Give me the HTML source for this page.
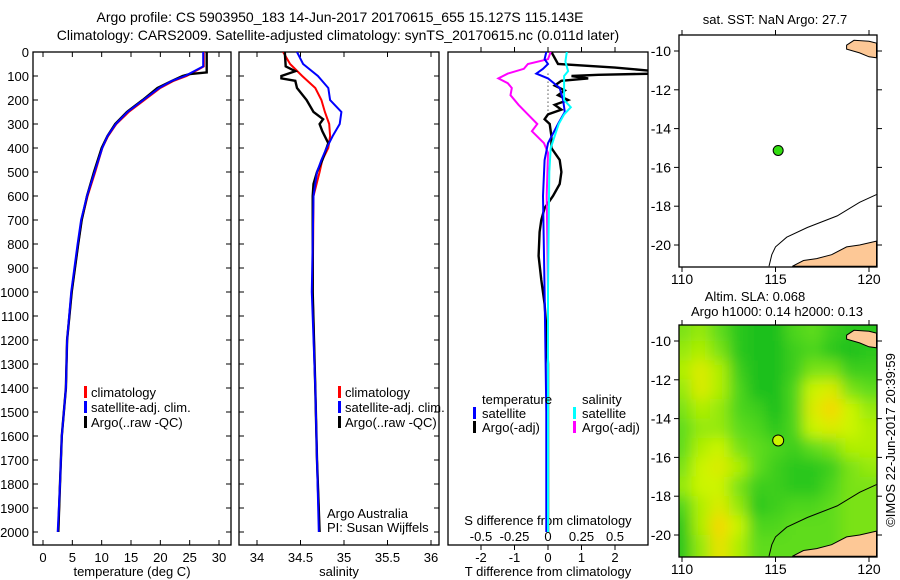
<!DOCTYPE html>
<html><head><meta charset="utf-8"><style>
body{margin:0;background:#fff}
svg{display:block;font-family:"Liberation Sans",sans-serif}
text{font-size:13px;fill:#000}
</style></head><body>
<svg id="c" width="900" height="580" viewBox="0 0 900 580">
<defs>
<clipPath id="cp1"><rect x="33" y="52" width="198" height="493"/></clipPath>
<clipPath id="cp2"><rect x="239" y="52" width="200" height="493"/></clipPath>
<clipPath id="cp3"><rect x="448" y="52" width="200" height="493"/></clipPath>
<clipPath id="cpm1"><rect x="679" y="35" width="198" height="232"/></clipPath>
<clipPath id="cpm2"><rect x="679" y="325" width="198" height="232"/></clipPath>
<filter id="blur" x="-5%" y="-5%" width="110%" height="110%"><feGaussianBlur stdDeviation="7"/></filter>
</defs>
<text x="340" y="22" text-anchor="middle" style="font-size:14px">Argo profile: CS 5903950_183 14-Jun-2017 20170615_655 15.127S 115.143E</text>
<text x="338" y="40" text-anchor="middle" style="font-size:14px">Climatology: CARS2009. Satellite-adjusted climatology: synTS_20170615.nc (0.011d later)</text>
<text transform="translate(895,440) rotate(-90)" text-anchor="middle" style="font-size:13px">©IMOS 22-Jun-2017 20:39:59</text>
</svg>
<script>
// ---------- data ----------
const depthTicks=[0,100,200,300,400,500,600,700,800,900,1000,1100,1200,1300,1400,1500,1600,1700,1800,1900,2000];
const tTicks=[0,5,10,15,20,25,30];
const sTicks=[34,34.5,35,35.5,36];
const dTTicks=[-2,-1,0,1,2];
const dSTicks=[-0.5,-0.25,0,0.25,0.5];
const argoTDepth=[0,85,92,100,120,150,200,250,300,350,400,500,600,700,800,1000,1200,1400,1600,1800,2000];
const argoTemp=[27.9,27.9,25,23.8,22,19.5,17,14.3,12.3,11,10,8.7,7.5,6.6,6.0,4.9,4.1,3.9,3.2,2.9,2.6];
const climTDepth=[0,60,100,120,150,200,250,300,350,400,500,600,700,800,1000,1200,1400,1600,1800,2000];
const climTemp=[27.4,27.4,24.5,22.3,20,17.3,14.6,12.5,11.1,10.1,8.9,7.6,6.6,6.0,4.9,4.1,3.9,3.2,2.9,2.6];
const satTemp=[27.3,27.3,24.2,22.0,19.8,17.1,14.4,12.4,11.0,10.1,8.8,7.5,6.5,5.9,4.8,4.1,3.9,3.2,2.9,2.5];
const argoSDepth=[0,60,80,100,110,120,150,200,250,280,300,330,380,450,500,550,600,1000,1400,1700,2000];
const argoSal=[34.32,34.33,34.44,34.28,34.28,34.44,34.46,34.57,34.65,34.76,34.72,34.75,34.82,34.75,34.69,34.65,34.64,34.64,34.67,34.69,34.72];
const climSDepth=[0,50,100,150,200,250,300,350,400,450,500,600,1000,1400,1700,2000];
const climSal=[34.3,34.38,34.52,34.67,34.74,34.78,34.83,34.84,34.82,34.75,34.72,34.65,34.64,34.67,34.69,34.72];
const satSal=[34.46,34.53,34.7,34.82,34.84,34.97,34.95,34.87,34.8,34.74,34.69,34.65,34.63,34.67,34.69,34.71];
const dArgoTDepth=[0,50,65,80,90,95,100,110,120,140,160,180,200,220,240,260,280,300,350,400,450,500,550,600,650,700,750,850,950,1050,1150,1300,2000];
const dArgoT=[0.1,0.3,2.0,3.2,3.2,1.5,0.7,1.2,0.4,0.2,0.5,0.3,0.6,0.2,0.4,0.0,-0.1,0.05,0.1,0.1,0.35,0.4,0.35,0.15,-0.1,-0.2,-0.25,-0.28,-0.2,-0.1,-0.05,0,0];
const dSatTDepth=[0,30,50,70,90,110,150,200,250,300,340,380,450,600,1000,1500,2000];
const dSatT=[-0.05,-0.1,0.0,-0.15,-0.35,0.0,0.35,0.45,0.5,0.3,0.15,0.0,-0.1,-0.15,-0.1,-0.05,-0.05];
const dSatSDepth=[0,40,80,100,150,200,230,260,300,350,400,500,1000,2000];
const dSatS=[0.14,0.13,0.15,0.12,0.12,0.12,0.17,0.12,0.08,0.05,0.02,0.01,0.0,0.0];
const dArgoSDepth=[0,30,50,70,90,110,130,150,180,220,260,300,330,380,420,600,1000,2000];
const dArgoS=[0.02,0.0,-0.15,-0.18,-0.3,-0.37,-0.3,-0.27,-0.28,-0.22,-0.15,-0.08,-0.12,-0.03,0.0,-0.01,0.0,0.0];
const lonTicks=[110,115,120];
const latTicks=[-10,-12,-14,-16,-18,-20];
const slaLons=[110,111,112,113,114,115,116,117,118,119,120];
const slaLats=[-9.5,-10.5,-11.5,-12.5,-13.5,-14.5,-15.5,-16.5,-17.5,-18.5,-19.5,-20.5];
const slaValues=[
[0.6,0.7,0.5,0.2,0.1,0.1,0.4,0.5,0.3,0.2,0.2],
[0.7,0.8,0.6,0.2,0.1,0.1,0.3,0.4,0.2,0.1,0.2],
[0.8,1.0,0.8,0.3,0.1,0.1,0.3,0.6,0.6,0.3,0.3],
[0.7,1.0,0.8,0.4,0.1,0.1,0.4,0.9,1.0,0.6,0.5],
[0.6,0.8,0.7,0.4,0.3,0.1,0.4,1.0,1.2,0.9,0.7],
[0.5,0.7,0.7,0.5,0.4,0.2,0.4,0.9,1.0,0.9,0.8],
[0.5,0.8,0.9,0.6,0.5,0.4,0.3,0.5,0.6,0.8,0.8],
[0.6,0.9,1.0,0.8,0.5,0.3,0.2,0.2,0.3,0.6,0.7],
[0.7,0.9,0.9,0.6,0.3,0.3,0.2,0.2,0.4,0.6,0.6],
[0.4,0.8,1.0,0.7,0.2,0.3,0.4,0.4,0.5,0.6,0.6],
[0.2,0.8,1.2,0.9,0.4,0.4,0.5,0.5,0.5,0.6,0.6],
[0.2,0.7,1.1,0.8,0.5,0.5,0.5,0.5,0.5,0.6,0.6]];
const floatLon=115.143, floatLat=-15.127;
const islandLon=[118.8,119.2,120,120.4,120.4,120,119.5,118.8];
const islandLat=[-9.7,-9.45,-9.5,-9.6,-10.35,-10.3,-10.1,-9.9];
const ausLon=[115.9,116.5,117.2,118,118.8,119.5,120.4,120.4];
const ausLat=[-21.1,-20.8,-20.7,-20.5,-20.1,-20.0,-19.8,-21.1];
const isoLon=[114.65,114.8,115.0,115.6,116.7,118.3,119.5,120.4];
const isoLat=[-21.1,-20.5,-20.1,-19.6,-19.1,-18.5,-17.8,-17.4];

// ---------- helpers ----------
const svg=document.getElementById('c');
const NS='http://www.w3.org/2000/svg';
function mk(tag,attrs,parent){const e=document.createElementNS(NS,tag);for(const k in attrs)e.setAttribute(k,attrs[k]);(parent||svg).appendChild(e);return e;}
const yD=d=>52+d*0.24;
const xT=t=>43+t*5.867;
const xS=s=>257+(s-34)*87;
const xDT=t=>548+t*33.5;
const xDS=s=>548+s*4*33.5;
const lonX=lon=>682+(lon-110)*18.7;
const latY=(lat,off)=>off+51+(-10-lat)*19.4;

function frame(x,y,w,h,name){
  const r=mk('rect',{x:x,y:y,width:w,height:h,fill:'none',stroke:'#000','stroke-width':1.3});
  
  
}
function line(xs,ys,color,w,clip,name){
  const pts=xs.map((x,i)=>x.toFixed(1)+','+ys[i].toFixed(1)).join(' ');
  const p=mk('polyline',{points:pts,fill:'none',stroke:color,'stroke-width':w,'clip-path':'url(#'+clip+')'});
  
  
}
function txt(x,y,s,anchor,name,size){
  const t=mk('text',{x:x,y:y,'text-anchor':anchor||'start'});
  if(size)t.style.fontSize=size+'px';
  t.textContent=s;
  
  
  return t;
}
function depthAxis(x0,x1,labels){
  depthTicks.forEach(d=>{
    mk('line',{x1:x0,x2:x0+5,y1:yD(d),y2:yD(d),stroke:'#000'});
    mk('line',{x1:x1,x2:x1-5,y1:yD(d),y2:yD(d),stroke:'#000'});
    if(labels){txt(x0-4,yD(d)+5,String(d),'end','depth-tick-label');}
  });
}
function xAxis(vals,fx,fmt,name){
  vals.forEach(v=>{
    const x=fx(v);
    mk('line',{x1:x,x2:x,y1:545,y2:540,stroke:'#000'});
    mk('line',{x1:x,x2:x,y1:52,y2:57,stroke:'#000'});
    txt(x,562,fmt(v),'middle',name);
  });
}
function legendMark(x,y,color,name){
  const r=mk('rect',{x:x,y:y-11,width:3,height:12,fill:color});
  
  
}

// ---------- panel 1: temperature ----------
frame(33,52,198,493,'temperature-panel');
depthAxis(33,231,true);
xAxis(tTicks,xT,v=>String(v),'temperature-tick-label');
txt(132,576,'temperature (deg C)','middle','x-axis-title-temperature');
line(climTemp.map(xT),climTDepth.map(yD),'#f00',2,'cp1','climatology-temp-line');
line(argoTemp.map(xT),argoTDepth.map(yD),'#000',2.4,'cp1','argo-temp-line');
line(satTemp.map(xT),climTDepth.map(yD),'#00f',2,'cp1','satellite-temp-line');
legendMark(84,397,'#f00','legend-climatology-mark');txt(91,397,'climatology','start','legend-climatology');
legendMark(84,412,'#00f','legend-satellite-mark');txt(91,412,'satellite-adj. clim.','start','legend-satellite');
legendMark(84,427,'#000','legend-argo-mark');txt(91,427,'Argo(..raw -QC)','start','legend-argo');

// ---------- panel 2: salinity ----------
frame(239,52,200,493,'salinity-panel');
depthAxis(239,439,false);
xAxis(sTicks,xS,v=>String(v),'salinity-tick-label');
txt(339,576,'salinity','middle','x-axis-title-salinity');
line(climSal.map(xS),climSDepth.map(yD),'#f00',2,'cp2','climatology-sal-line');
line(argoSal.map(xS),argoSDepth.map(yD),'#000',2.4,'cp2','argo-sal-line');
line(satSal.map(xS),climSDepth.map(yD),'#00f',2,'cp2','satellite-sal-line');
legendMark(338,397,'#f00','legend2-climatology-mark');txt(345,397,'climatology','start','legend2-climatology');
legendMark(338,412,'#00f','legend2-satellite-mark');txt(345,412,'satellite-adj. clim.','start','legend2-satellite');
legendMark(338,427,'#000','legend2-argo-mark');txt(345,427,'Argo(..raw -QC)','start','legend2-argo');
txt(327,518,'Argo Australia','start','argo-australia-label');
txt(327,532,'PI: Susan Wijffels','start','pi-label');

// ---------- panel 3: differences ----------
frame(448,52,200,493,'difference-panel');
dTTicks.forEach(v=>{const x=xDT(v);mk('line',{x1:x,x2:x,y1:545,y2:550,stroke:'#000'});txt(x,562,String(v),'middle','t-diff-tick-label');});
dSTicks.forEach(v=>{const x=xDS(v);mk('line',{x1:x,x2:x,y1:52,y2:47,stroke:'#000'});txt(x,541,String(v),'middle','s-diff-tick-label');});
txt(548,525,'S difference from climatology','middle','s-diff-axis-title');
txt(548,576,'T difference from climatology','middle','t-diff-axis-title');
mk('line',{x1:548,x2:548,y1:yD(90),y2:yD(250),stroke:'#000','stroke-dasharray':'1,3'});
line(dArgoT.map(xDT),dArgoTDepth.map(yD),'#000',2.4,'cp3','argo-tdiff-line');
line(dArgoS.map(xDS),dArgoSDepth.map(yD),'#f0f',2,'cp3','argo-sdiff-line');
line(dSatT.map(xDT),dSatTDepth.map(yD),'#00f',2,'cp3','satellite-tdiff-line');
line(dSatS.map(xDS),dSatSDepth.map(yD),'#0ff',2,'cp3','satellite-sdiff-line');
txt(482,404,'temperature','start','legend3-temperature-heading');
legendMark(473,418,'#00f','legend3-tsat-mark');txt(482,418,'satellite','start','legend3-tsat');
legendMark(473,432,'#000','legend3-targo-mark');txt(482,432,'Argo(-adj)','start','legend3-targo');
txt(582,404,'salinity','start','legend3-salinity-heading');
legendMark(573,418,'#0ff','legend3-ssat-mark');txt(582,418,'satellite','start','legend3-ssat');
legendMark(573,432,'#f0f','legend3-sargo-mark');txt(582,432,'Argo(-adj)','start','legend3-sargo');

// ---------- maps ----------
function slaColor(v){
  const stops=[[0,[10,185,30]],[0.5,[95,220,26]],[0.9,[204,245,0]],[1.2,[245,216,0]]];
  for(let i=0;i<stops.length-1;i++){
    const a=stops[i],b=stops[i+1];
    if(v<=b[0]||i==stops.length-2){const f=Math.max(0,Math.min(1,(v-a[0])/(b[0]-a[0])));
      const c=a[1].map((q,j)=>Math.round(q+(b[1][j]-q)*f));return 'rgb('+c.join(',')+')';}
  }
}
function mapPanel(off,clip,name,withSla){
  const g=mk('g',{'clip-path':'url(#'+clip+')'});
  
  
  if(withSla){
    const hg=mk('g',{filter:'url(#blur)'},g);
    
    
    slaValues.forEach((row,i)=>row.forEach((v,j)=>{
      const x0=lonX(slaLons[j]-0.5),x1=lonX(slaLons[j]+0.5);
      const y0=latY(slaLats[i]+0.5,off),y1=latY(slaLats[i]-0.5,off);
      const r=mk('rect',{x:x0-(j==0?20:0),y:y0-(i==0?20:0),width:x1-x0+1+(j==0?20:0)+(j==row.length-1?20:0),height:y1-y0+1+(i==0?20:0)+(i==slaValues.length-1?20:0),fill:slaColor(v)},hg);
      
      
    }));
  }
  const poly=(lons,lats,fill,nm)=>{const p=mk('polygon',{points:lons.map((l,i)=>lonX(l).toFixed(1)+','+latY(lats[i],off).toFixed(1)).join(' '),fill:fill,stroke:'#000','stroke-width':1},g);
    };
  poly(islandLon,islandLat,'#fdc896','land-island');
  poly(ausLon,ausLat,'#fdc896','land-australia');
  const iso=mk('polyline',{points:isoLon.map((l,i)=>lonX(l).toFixed(1)+','+latY(isoLat[i],off).toFixed(1)).join(' '),fill:'none',stroke:'#000','stroke-width':1},g);
  
  
  frame(679,35+off,198,232,name);
  lonTicks.forEach(v=>{const x=lonX(v);
    mk('line',{x1:x,x2:x,y1:267+off,y2:272+off,stroke:'#000'});
    mk('line',{x1:x,x2:x,y1:35+off,y2:30+off,stroke:'#000'});
    txt(x,284+off,String(v),'middle',name+'-lon-label',14);});
  latTicks.forEach(v=>{const y=latY(v,off);
    mk('line',{x1:679,x2:674,y1:y,y2:y,stroke:'#000'});
    mk('line',{x1:877,x2:882,y1:y,y2:y,stroke:'#000'});
    txt(671,y+5,String(v),'end',name+'-lat-label',14);});
}
mapPanel(0,'cpm1','sst-map',false);
mapPanel(290,'cpm2','sla-map',true);
txt(775,24,'sat. SST: NaN Argo: 27.7','middle','sst-map-title');
txt(755,301,'Altim. SLA: 0.068','middle','sla-map-title-1');
txt(777,316,'Argo h1000: 0.14 h2000: 0.13','middle','sla-map-title-2');
const f1=mk('circle',{cx:lonX(floatLon),cy:latY(floatLat,0),r:5,fill:'#33dd11',stroke:'#000','stroke-width':1});


const f2=mk('circle',{cx:lonX(floatLon),cy:latY(floatLat,290),r:5.5,fill:'#ccf500',stroke:'#000','stroke-width':1});


</script>
</body></html>
